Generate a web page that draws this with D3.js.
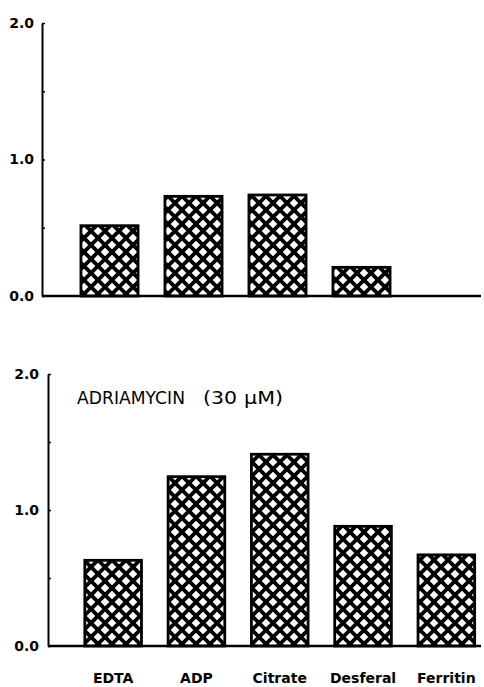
<!DOCTYPE html>
<html><head><meta charset="utf-8">
<script src="https://cdn.jsdelivr.net/npm/d3@7"></script>
<style>
body{margin:0;background:#fff;}
svg{display:block;}
</style></head>
<body>
<svg id="chart" width="484" height="687"></svg>
<script>
const categories = ["EDTA", "ADP", "Citrate", "Desferal", "Ferritin"];
const topValues = [0.515, 0.73, 0.74, 0.21, 0];
const bottomValues = [0.63, 1.245, 1.41, 0.88, 0.67];
const yTicks = [0, 0.5, 1.0, 1.5, 2.0];
const annotation = ["ADRIAMYCIN", "(30", "\u03BCM)"];

const svg = d3.select("#chart");

const defs = svg.append("defs");
const pat = defs.append("pattern").attr("id", "hatch")
  .attr("patternUnits", "userSpaceOnUse").attr("width", 14).attr("height", 14);
pat.append("rect").attr("width", 14).attr("height", 14).attr("fill", "#fff");
pat.append("path").attr("d", "M-2,-2 L16,16 M16,-2 L-2,16")
  .attr("stroke", "#000").attr("stroke-width", 3.8).attr("fill", "none");

const panels = [
  { values: topValues, axisX: 42, y0: 296, y2: 23, xr: [67.5, 487.5], pad: 8, labels: false, note: false },
  { values: bottomValues, axisX: 48, y0: 646, y2: 374, xr: [71.5, 488], pad: 9, labels: true, note: true }
];

panels.forEach(p => {
  const y = d3.scaleLinear().domain([0, 2]).range([p.y0, p.y2]);
  const x = d3.scaleBand().domain(categories).range(p.xr).paddingInner(0.32).paddingOuter(0.16);
  const g = svg.append("g");

  const ax = g.append("g").attr("transform", `translate(${p.axisX},0)`)
    .call(d3.axisLeft(y).tickValues(yTicks).tickSizeInner(-3).tickSizeOuter(0)
      .tickPadding(p.pad).tickFormat(v => (v % 1 === 0) ? d3.format(".1f")(v) : ""));
  ax.select(".domain").attr("stroke", "#000").attr("stroke-width", 2);
  ax.selectAll(".tick line").attr("stroke", "#000").attr("stroke-width", 1.5);
  ax.selectAll(".tick text").attr("font-family", "DejaVu Sans").attr("font-weight", "bold")
    .attr("font-size", 14).attr("fill", "#000");

  g.selectAll("rect.bar").data(p.values.map((v, i) => ({ c: categories[i], v })).filter(d => d.v > 0))
    .join("rect").attr("class", "bar")
    .attr("x", d => x(d.c)).attr("width", x.bandwidth())
    .attr("y", d => y(d.v)).attr("height", d => y(0) - y(d.v))
    .attr("fill", "url(#hatch)").attr("stroke", "#000").attr("stroke-width", 2.8);

  g.append("line").attr("x1", p.axisX).attr("x2", 481).attr("y1", y(0)).attr("y2", y(0))
    .attr("stroke", "#000").attr("stroke-width", 2.5);

  if (p.labels) {
    g.selectAll("text.cat").data(categories).join("text").attr("class", "cat")
      .attr("x", d => x(d) + x.bandwidth() / 2).attr("y", 683)
      .attr("text-anchor", "middle").attr("font-family", "DejaVu Sans").attr("font-weight", "bold")
      .attr("font-size", 14).text(d => d);
  }
  if (p.note) {
    const pos = [[77, 108], [203, 34], [244, 39]];
    annotation.forEach((t, i) => {
      g.append("text").attr("x", pos[i][0]).attr("y", 404).attr("font-family", "DejaVu Sans")
        .attr("font-size", 17).attr("textLength", pos[i][1]).attr("lengthAdjust", "spacingAndGlyphs")
        .text(t);
    });
  }
});
</script>
</body></html>
